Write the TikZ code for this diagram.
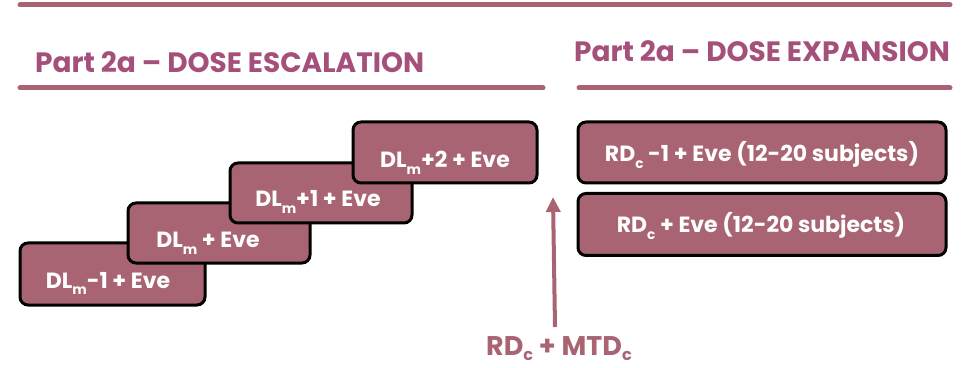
\documentclass[tikz,border=0pt]{standalone}
\usepackage{fontspec}
\setmainfont{Poppins}
\usetikzlibrary{arrows.meta}
\definecolor{mauve}{HTML}{A86472}
\definecolor{titlec}{HTML}{A5507A}
\newcommand{\lsub}[1]{\raisebox{-0.5ex}{\scalebox{0.62}{#1}}}
\newcommand{\lsubb}[1]{\raisebox{-0.35ex}{\scalebox{0.6}{#1}}}
\tikzset{
  rule/.style={line width=5pt, draw=mauve, line cap=round},
  stepbox/.style={draw=black, line width=3pt, fill=mauve, rounded corners=8pt, inner sep=0pt},
  boxtxt/.style={text=white, font=\bfseries\fontsize{22}{26}\selectfont, inner sep=0pt, anchor=base},
  titletxt/.style={text=titlec, font=\bfseries\fontsize{28}{32}\selectfont, inner sep=0pt},
}
\begin{document}
\begin{tikzpicture}[x=1pt,y=1pt]
\useasboundingbox (0,0) rectangle (974,367);
% rules
\coordinate (t1) at (20,362);
\coordinate (t2) at (950,362);
\coordinate (l1) at (20,279);
\coordinate (l2) at (543,279);
\coordinate (r1) at (579,279);
\coordinate (r2) at (950,279);
\draw[rule] (t1) -- (t2);
\draw[rule] (l1) -- (l2);
\draw[rule] (r1) -- (r2);
% titles
\node[titletxt, anchor=base west] (ttl) at (35,294) {Part 2a – DOSE ESCALATION};
\node[titletxt, anchor=base west] (ttr) at (574,305) {Part 2a – DOSE EXPANSION};
% escalation boxes
\node[stepbox, minimum width=185pt, minimum height=62pt] (b1) at (112.5,93) {};
\node[boxtxt] (x1) at (108,79) {DL\lsub{m}-1 + Eve};
\node[stepbox, minimum width=182pt, minimum height=60pt] (b2) at (219,134) {};
\node[boxtxt] (x2) at (208,119) {DL\lsub{m} + Eve};
\node[stepbox, minimum width=182pt, minimum height=60pt] (b3) at (321,174) {};
\node[boxtxt] (x3) at (318,160) {DL\lsub{m}+1 + Eve};
\node[stepbox, minimum width=184pt, minimum height=61pt] (b4) at (445,214.5) {};
\node[boxtxt] (x4) at (445,199) {DL\lsub{m}+2 + Eve};
% expansion boxes
\node[stepbox, minimum width=368pt, minimum height=61pt] (ra) at (762,214.5) {};
\node[boxtxt] (xa) at (762,205) {RD\lsub{c} -1 + Eve (12-20 subjects)};
\node[stepbox, minimum width=368pt, minimum height=62pt] (rb) at (762,142.5) {};
\node[boxtxt] (xb) at (761,134) {RD\lsub{c} + Eve (12-20 subjects)};
% bottom label and arrow
\node[text=mauve, font=\bfseries\fontsize{27}{32}\selectfont, inner sep=0pt, anchor=base] (lab) at (559,12) {RD\lsubb{c} + MTD\lsubb{c}};
\coordinate (as) at (555,40);
\coordinate (ae) at (553,170);
\draw[draw=mauve, line width=4pt, -{Triangle[width=14pt,length=15pt]}] (as) -- (ae);
\end{tikzpicture}
\end{document}
